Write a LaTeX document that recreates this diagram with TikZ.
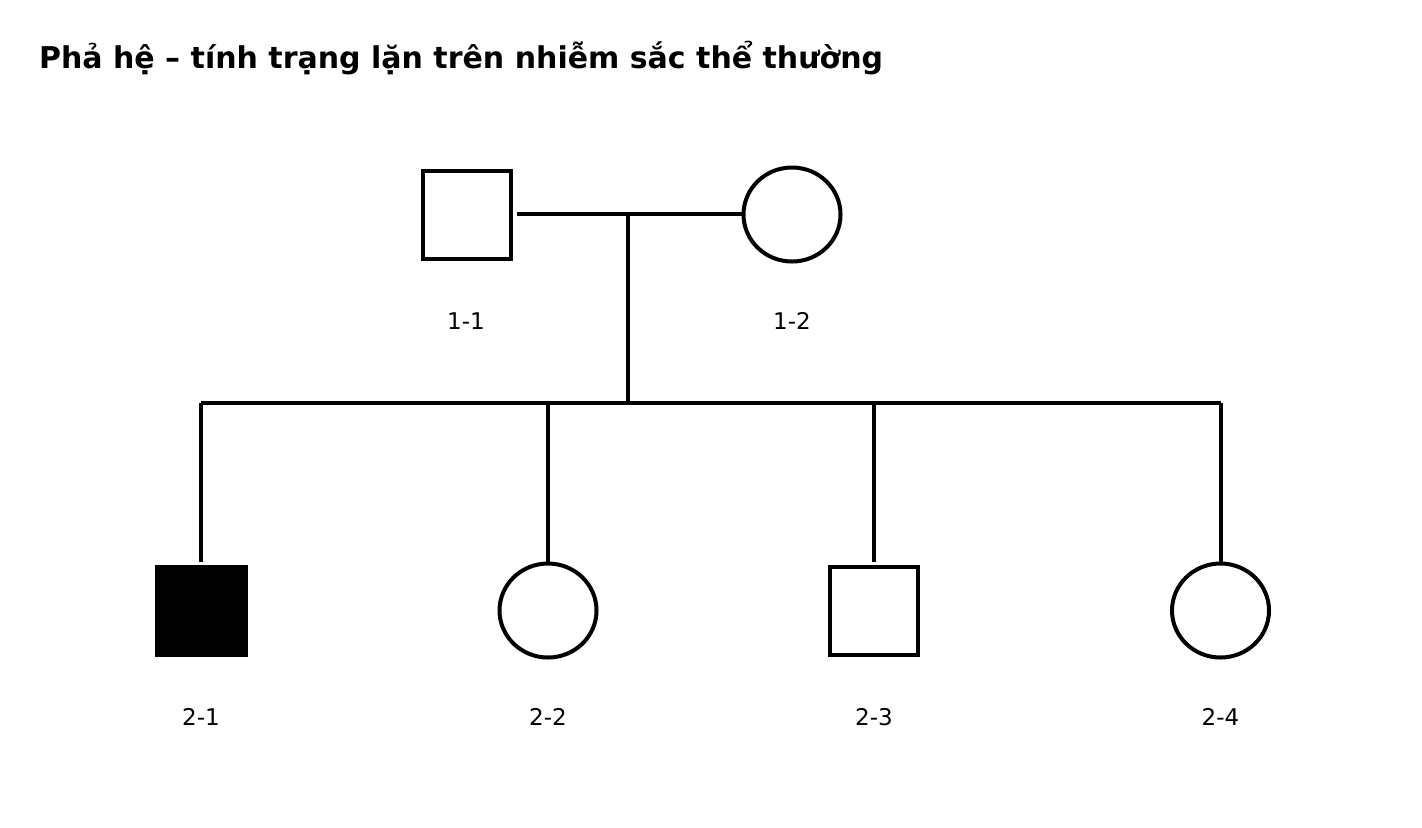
\documentclass[tikz,border=0pt]{standalone}
\usepackage{fontspec}
\setmainfont{DejaVu Sans}
\usetikzlibrary{shapes.geometric}
\begin{document}
\begin{tikzpicture}[x=0.5pt,y=-0.5pt,
    male/.style={rectangle,draw,line width=2pt,minimum size=44pt,inner sep=0pt},
    female/.style={ellipse,draw,line width=2pt,minimum width=48.5pt,minimum height=47pt,inner sep=0pt},
    affected/.style={fill=black,line width=0.6pt,minimum size=45.5pt},
    tag/.style={anchor=base,font=\fontsize{11.5}{13}\selectfont},
    line/.style={line width=1.6pt}]
        \useasboundingbox (0,0) rectangle (1422,827);
        \node[anchor=base west,font=\fontsize{15}{18}\selectfont\bfseries] (title) at (32, 68) {Phả hệ – tính trạng lặn trên nhiễm sắc thể thường};

        % generation 1
        \node[male] (p11) at (466.5, 215) {};
        \node[female] (p12) at (792, 214.5) {};
        \node[tag] (l11) at (466, 329.5) {1-1};
        \node[tag] (l12) at (792, 329.5) {1-2};

        % generation 2
        \node[male,affected] (p21) at (201.5, 611) {};
        \node[female] (p22) at (548, 610.5) {};
        \node[male] (p23) at (874, 611) {};
        \node[female] (p24) at (1220.5, 610.5) {};
        \node[tag] (l21) at (201, 725.5) {2-1};
        \node[tag] (l22) at (548, 725.5) {2-2};
        \node[tag] (l23) at (874, 725.5) {2-3};
        \node[tag] (l24) at (1220.5, 725.5) {2-4};

        \coordinate (mate) at (628, 214);
        \coordinate (sib) at (628, 403);
        \coordinate (s21) at (201, 403);
        \coordinate (s22) at (548, 403);
        \coordinate (s23) at (874, 403);
        \coordinate (s24) at (1221, 403);

        \draw[line,shorten <=2pt] (p11.east |- mate) -- (p12.west |- mate);
        \draw[line] (mate) -- (sib);
        \draw[line] (s21) -- (s24);
        \draw[line,shorten >=1.5pt] (s21) -- (p21.north -| s21);
        \draw[line] (s22) -- (p22.north);
        \draw[line,shorten >=1.5pt] (s23) -- (p23.north);
        \draw[line] (s24) -- (p24.north -| s24);

    \end{tikzpicture}
\end{document}
